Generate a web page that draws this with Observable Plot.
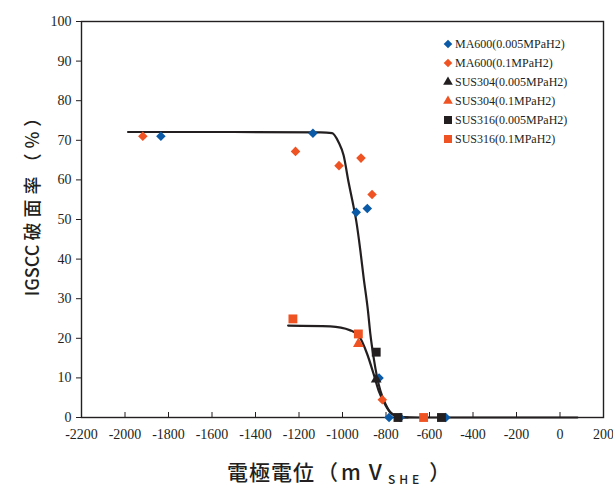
<!DOCTYPE html>
<html>
<head>
<meta charset="utf-8">
<script src="https://cdn.jsdelivr.net/npm/d3@7"></script>
<script src="https://cdn.jsdelivr.net/npm/@observablehq/plot@0.6"></script>
<style>
  html, body { margin: 0; padding: 0; background: #fff; }
  #chart svg { display: block; }
</style>
</head>
<body>
<div id="chart"></div>
<script>
// ---- data ----
const seriesNames = ["MA600(0.005MPaH2)", "MA600(0.1MPaH2)", "SUS304(0.005MPaH2)", "SUS304(0.1MPaH2)", "SUS316(0.005MPaH2)", "SUS316(0.1MPaH2)"];
const seriesSymbols = ["diamond2", "diamond2", "triangle", "triangle", "square", "square"];
const seriesColors = ["#0a5aa8", "#ef5323", "#231f20", "#ef5323", "#231f20", "#ef5323"];

const ma600LowX  = [-1835, -1136, -937, -886, -832, -786, -735, -525];
const ma600LowY  = [71.0, 71.8, 51.8, 52.8, 10.0, 0, 0, 0];
const ma600HighX = [-1918, -1216, -1016, -915, -864, -817];
const ma600HighY = [71.0, 67.2, 63.6, 65.5, 56.3, 4.5];
const sus304LowX  = [-845];
const sus304LowY  = [9.6];
const sus304HighX = [-927];
const sus304HighY = [18.6];
const sus316LowX  = [-845, -745, -545];
const sus316LowY  = [16.5, 0, 0];
const sus316HighX = [-1228, -927, -627];
const sus316HighY = [24.9, 21.1, 0];

// fitted curves
const fitMaX = [-1986, -1500, -1100, -1048, -1018, -995, -972, -950, -937, -918, -903, -883, -872, -857, -841, -826, -803, -772, -734, -650, 80];
const fitMaY = [72.1, 72.1, 72.0, 71.8, 69.5, 66.2, 59.4, 53.5, 49.7, 42.2, 35.4, 27.0, 21.1, 15.2, 10.2, 6.8, 3.5, 0.9, 0.1, 0, 0];
const fitSusX = [-1250, -1056, -964, -926, -887, -857, -834, -811, -780, -734, -700];
const fitSusY = [23.2, 23.0, 22.0, 20.7, 16.1, 11.0, 6.8, 4.0, 1.3, 0.1, 0];

const xTicks = [-2200, -2000, -1800, -1600, -1400, -1200, -1000, -800, -600, -400, -200, 0, 200];
const yTicks = [0, 10, 20, 30, 40, 50, 60, 70, 80, 90, 100];
const xDomain = [-2200, 200];
const yDomain = [0, 100];
const yTitle = ["IGSCC ", "破面率（%）"];
const xTitle = ["電極電位", "（", "m", "V", "SHE", "）"];

// ---- build tables ----
const zip = (xs, ys) => xs.map((x, i) => ({x, y: ys[i]}));
const seriesData = [
  zip(ma600LowX, ma600LowY), zip(ma600HighX, ma600HighY),
  zip(sus304LowX, sus304LowY), zip(sus304HighX, sus304HighY),
  zip(sus316LowX, sus316LowY), zip(sus316HighX, sus316HighY)
];
const fitMa = zip(fitMaX, fitMaY);
const fitSus = zip(fitSusX, fitSusY);
const radius = s => s === "square" ? 5 : s === "triangle" ? 4 : 4.3;
const serif = "'Liberation Serif', 'Times New Roman', serif";
const gothic = "'Noto Sans CJK JP', 'Noto Sans', sans-serif";
const ink = "#231f20";

const W = 613, H = 486;
const chart = Plot.plot({
  width: W, height: H,
  marginLeft: 81, marginRight: 10, marginTop: 21, marginBottom: 69,
  style: {fontFamily: serif, fontSize: "14px", color: ink, background: "#fff"},
  x: {domain: xDomain},
  y: {domain: yDomain},
  marks: [
    Plot.frame({stroke: ink, strokeWidth: 1.4}),
    Plot.axisY(yTicks, {tickSize: 5, tickPadding: 5, label: null, tickFormat: d => String(d), fontSize: 14, stroke: ink, fill: ink}),
    Plot.axisX(xTicks, {tickSize: 0, tickPadding: 12, label: null, tickFormat: d => String(d), fontSize: 14, fill: ink}),
    Plot.ruleX(xTicks, {x: d => d, y1: 0, y2: 0, insetBottom: 5, stroke: ink}),
    Plot.line(fitMa, {x: "x", y: "y", curve: "monotone-x", stroke: ink, strokeWidth: 2.2}),
    Plot.line(fitSus, {x: "x", y: "y", curve: "monotone-x", stroke: ink, strokeWidth: 2.2}),
    ...seriesData.map((d, i) => Plot.dot(d, {x: "x", y: "y", symbol: seriesSymbols[i], fill: seriesColors[i], stroke: "none", r: radius(seriesSymbols[i])}))
  ]
});

const svg = d3.select(chart);
// force serif tick labels
svg.selectAll("g[aria-label='x-axis tick label'], g[aria-label='y-axis tick label']")
  .attr("font-family", serif).style("font-family", serif);

// y title
const yt = svg.append("text")
  .attr("transform", "translate(31,200) rotate(-90)")
  .attr("text-anchor", "middle")
  .attr("dominant-baseline", "central")
  .style("font-family", gothic)
  .style("font-size", "18px")
  .style("font-weight", "500")
  .attr("fill", ink);
yt.append("tspan").text(yTitle[0]);
yt.append("tspan").attr("letter-spacing", "5px").text(yTitle[1]);

// x title
const xt = svg.append("text")
  .attr("x", 227).attr("y", 480)
  .attr("text-anchor", "start")
  .style("font-family", gothic)
  .style("font-size", "21px")
  .style("font-weight", "500")
  .attr("letter-spacing", "1px")
  .attr("fill", ink);
xt.append("tspan").text(xTitle[0]);
xt.append("tspan").attr("dx", 2).text(xTitle[1]);
xt.append("tspan").attr("dx", 2).text(xTitle[2]);
xt.append("tspan").attr("dx", 7).style("font-size", "22px").text(xTitle[3]);
xt.append("tspan").attr("dx", 5).attr("dy", 4).style("font-size", "12px").attr("letter-spacing", "4px").text(xTitle[4]);
xt.append("tspan").attr("dx", 6).attr("dy", -4).text(xTitle[5]);

// legend
const lg = svg.append("g").attr("transform", "translate(448,44)");
seriesNames.forEach((name, i) => {
  const row = lg.append("g").attr("transform", `translate(0,${i * 19})`);
  const sym = seriesSymbols[i] === "diamond2" ? d3.symbolDiamond2 : seriesSymbols[i] === "triangle" ? d3.symbolTriangle : d3.symbolSquare;
  const r = radius(seriesSymbols[i]) * 0.9;
  row.append("path").attr("d", d3.symbol(sym, Math.PI * r * r)()).attr("fill", seriesColors[i]);
  row.append("text").attr("x", 7).attr("dy", "0.35em").attr("text-anchor", "start")
    .style("font-family", serif).style("font-size", "12px")
    .attr("fill", ink).text(name);
});

document.getElementById("chart").appendChild(chart);
</script>
</body>
</html>
